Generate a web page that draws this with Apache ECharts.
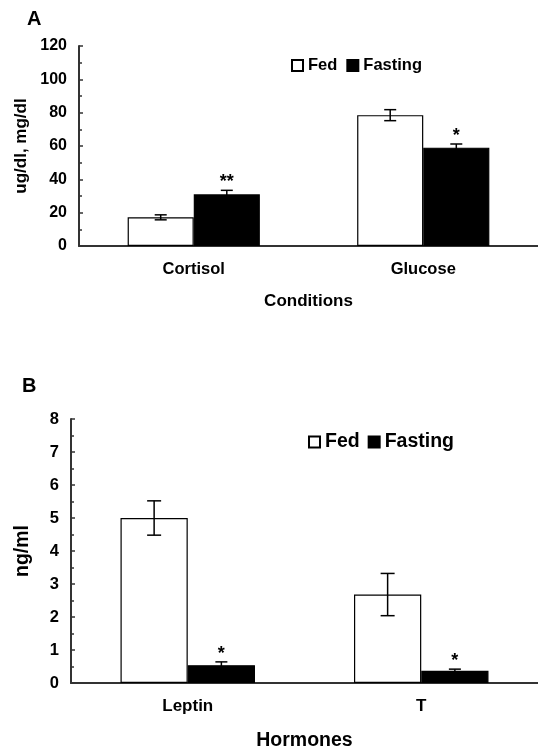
<!DOCTYPE html>
<html>
<head>
<meta charset="utf-8">
<script src="https://cdn.jsdelivr.net/npm/echarts@6/dist/echarts.min.js"></script>
<style>html,body{margin:0;padding:0;background:#fff}#c{width:538px;height:756px}</style>
</head>
<body>
<div id="c"></div>
<script>
// Panel A
var catsA = ['Cortisol', 'Glucose'];
var fedA = [17.2, 78.5];
var fedErrA = [1.5, 3.3];
var fastA = [31, 59];
var fastErrA = [2.4, 2.2];
var sigA = ['**', '*'];
var yTicksA = [0, 20, 40, 60, 80, 100, 120];
// Panel B
var catsB = ['Leptin', 'T'];
var fedB = [5.0, 2.68];
var fedErrB = [0.52, 0.64];
var fastB = [0.54, 0.37];
var fastErrB = [0.1, 0.05];
var sigB = ['*', '*'];
var yTicksB = [0, 1, 2, 3, 4, 5, 6, 7, 8];

var FONT = 'Liberation Sans, Arial, sans-serif';
var AX = '#333';

function errSeries(xi, yi, means, errs, sign, capHalf, sigs, sigSize) {
  var data = means.map(function (m, i) { return [i, m, errs[i]]; });
  return {
    type: 'custom', xAxisIndex: xi, yAxisIndex: yi, z: 10, silent: true,
    data: data,
    renderItem: function (params, api) {
      var cat = api.value(0), mean = api.value(1), err = api.value(2);
      var band = api.size([1, 0])[0];
      var x = api.coord([cat, mean])[0] + sign * band * 0.144;
      var top = api.coord([cat, mean + err])[1];
      var bot = api.coord([cat, mean - err])[1];
      var st = { stroke: '#000', lineWidth: 1.5 };
      var children = [
        { type: 'line', shape: { x1: x, y1: top, x2: x, y2: bot }, style: st },
        { type: 'line', shape: { x1: x - capHalf, y1: top, x2: x + capHalf, y2: top }, style: st },
        { type: 'line', shape: { x1: x - capHalf, y1: bot, x2: x + capHalf, y2: bot }, style: st }
      ];
      var s = sigs ? sigs[params.dataIndex] : '';
      if (s) {
        children.push({ type: 'text', style: { text: s, x: x, y: top + 1, align: 'center', verticalAlign: 'bottom',
          fill: '#000', font: 'bold ' + sigSize + 'px ' + FONT } });
      }
      return { type: 'group', children: children };
    }
  };
}

function yAxis(gi, max, interval, labelSize, name, nameSize, nameGap) {
  return {
    gridIndex: gi, type: 'value', min: 0, max: max, interval: interval,
    name: name, nameLocation: 'middle', nameGap: nameGap,
    nameTextStyle: { fontFamily: FONT, fontWeight: 'bold', fontSize: nameSize, color: '#000' },
    axisLine: { show: true, lineStyle: { color: AX, width: 2 } },
    axisTick: { show: true, inside: true, length: 4, lineStyle: { color: AX, width: 1.5 } },
    minorTick: { show: true, splitNumber: 2, length: 3, lineStyle: { color: AX, width: 1.5 } },
    splitLine: { show: false },
    axisLabel: { margin: 12, fontFamily: FONT, fontWeight: 'bold', fontSize: labelSize, color: '#000' }
  };
}
function xAxis(gi, cats, labelSize, name, nameSize, nameGap, margin) {
  return {
    gridIndex: gi, type: 'category', data: cats,
    name: name, nameLocation: 'middle', nameGap: nameGap,
    nameTextStyle: { fontFamily: FONT, fontWeight: 'bold', fontSize: nameSize, color: '#000' },
    axisLine: { show: true, lineStyle: { color: AX, width: 2 } },
    axisTick: { show: false },
    axisLabel: { margin: margin, fontFamily: FONT, fontWeight: 'bold', fontSize: labelSize, color: '#000' }
  };
}
var fedStyle = { color: '#fff', borderColor: '#000', borderWidth: 1.2 };
var fastStyle = { color: '#000', borderColor: '#000', borderWidth: 1.2 };

var option = {
  animation: false,
  backgroundColor: '#fff',
  title: [
    { text: 'A', left: 22, top: 4, textStyle: { fontFamily: FONT, fontWeight: 'bold', fontSize: 20, color: '#000' } },
    { text: 'B', left: 17, top: 371, textStyle: { fontFamily: FONT, fontWeight: 'bold', fontSize: 20, color: '#000' } }
  ],
  legend: [
    { data: ['Fed', 'Fasting'], left: 286, top: 52, itemWidth: 11, itemHeight: 11, itemGap: 9, icon: 'rect',
      textStyle: { fontFamily: FONT, fontWeight: 'bold', fontSize: 16.5, color: '#000' } },
    { data: ['Fed', 'Fasting'], left: 303, top: 427, itemWidth: 11, itemHeight: 11, itemGap: 8, icon: 'rect',
      textStyle: { fontFamily: FONT, fontWeight: 'bold', fontSize: 19.5, color: '#000' } }
  ],
  grid: [
    { left: 79, top: 46, height: 200, right: 0 },
    { left: 71, top: 419, height: 264, right: -8 }
  ],
  xAxis: [
    xAxis(0, catsA, 16.5, 'Conditions', 17, 47, 15),
    xAxis(1, catsB, 17, 'Hormones', 19.5, 48, 15)
  ],
  yAxis: [
    yAxis(0, 120, 20, 16, 'ug/dl, mg/dl', 17, 48),
    yAxis(1, 8, 1, 16.5, 'ng/ml', 19.5, 38)
  ],
  series: [
    { name: 'Fed', type: 'bar', xAxisIndex: 0, yAxisIndex: 0, data: fedA, barWidth: '28.8%', barGap: '0%', itemStyle: fedStyle },
    { name: 'Fasting', type: 'bar', xAxisIndex: 0, yAxisIndex: 0, data: fastA, barWidth: '28.8%', barGap: '0%', itemStyle: fastStyle },
    { name: 'Fed', type: 'bar', xAxisIndex: 1, yAxisIndex: 1, data: fedB, barWidth: '28.8%', barGap: '0%', itemStyle: fedStyle },
    { name: 'Fasting', type: 'bar', xAxisIndex: 1, yAxisIndex: 1, data: fastB, barWidth: '28.8%', barGap: '0%', itemStyle: fastStyle },
    errSeries(0, 0, fedA, fedErrA, -1, 6, null, 16),
    errSeries(0, 0, fastA, fastErrA, 1, 6, sigA, 18),
    errSeries(1, 1, fedB, fedErrB, -1, 7, null, 16),
    errSeries(1, 1, fastB, fastErrB, 1, 6, sigB, 18)
  ]
};
var chart = echarts.init(document.getElementById('c'), null, { renderer: 'canvas' });
chart.setOption(option);
</script>
</body>
</html>
